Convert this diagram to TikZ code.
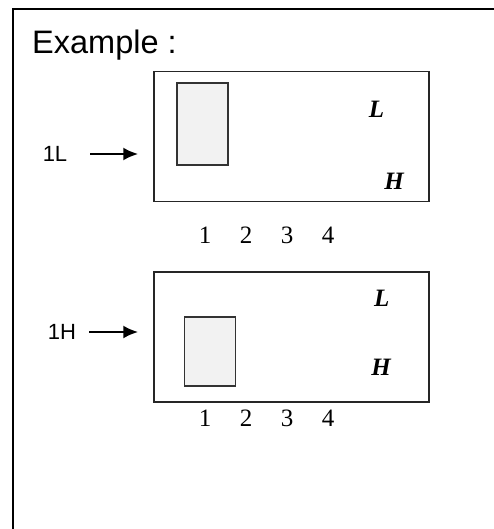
\documentclass[tikz,border=0pt]{standalone}
\usepackage{fontspec}
\setmainfont{Liberation Serif}
\setsansfont{Liberation Sans}
\usetikzlibrary{arrows.meta,positioning}

\tikzset{
	frame/.style={line width=2.6pt},
	panel/.style={draw=black!85,line width=1.4pt,minimum width=275pt,minimum height=130pt,inner sep=0pt},
	slot/.style={draw=black!80,fill=black!5,line width=1.4pt,minimum width=51pt,inner sep=0pt},
	lvl/.style={font=\fontsize{25}{25}\selectfont\bfseries\itshape,inner sep=0pt},
	num/.style={font=\fontsize{25}{25}\selectfont,inner sep=0pt,anchor=base},
	tag/.style={font=\sffamily\fontsize{22}{22}\selectfont,inner sep=0pt},
	pointer/.style={line width=2.5pt,-{Latex[length=15pt,width=13pt]},shorten >=15pt},
}

\begin{document}
\begin{tikzpicture}[x=1pt,y=-1pt]
				\useasboundingbox (0,0) rectangle (494,529);
				\draw [frame] (13,529) -- (13,9) -- (494,9); % open frame
				\node [anchor=base west,inner sep=0pt,font=\sffamily\fontsize{32.5}{32.5}\selectfont] (title) at (32,54) {Example :};
				
				% first case: 1L
				\node [panel] (boxL) at (291.5,136.5) {};
				\node [slot,minimum height=82pt] (slotL) at (202.5,124) {};
				\node [lvl] (lowL) at (376.5,109.5) {L};
				\node [lvl] (highL) at (394,181.5) {H};
				\node [tag] (tagL) at (55,154) {1L};
				\coordinate (fromL) at (90,154);
				\draw [pointer] (fromL) -- (fromL -| boxL.west);
				\foreach \i/\x in {1/205,2/246,3/287,4/328}{% column numbers
					\node [num] (colL\i) at (\x,243) {\i};
				}
				
				% second case: 1H
				\node [panel] (boxH) at (291.5,337) {};
				\node [slot,minimum height=69pt] (slotH) at (210,351.3) {};
				\node [lvl] (lowH) at (381.7,298.7) {L};
				\node [lvl] (highH) at (381,367) {H};
				\node [tag] (tagH) at (62,332) {1H};
				\coordinate (fromH) at (89,332);
				\draw [pointer] (fromH) -- (fromH -| boxH.west);
				\foreach \i/\x in {1/205,2/246,3/287,4/328}{%
					\node [num] (colH\i) at (\x,426) {\i};
				}
				
		\end{tikzpicture}
\end{document}
